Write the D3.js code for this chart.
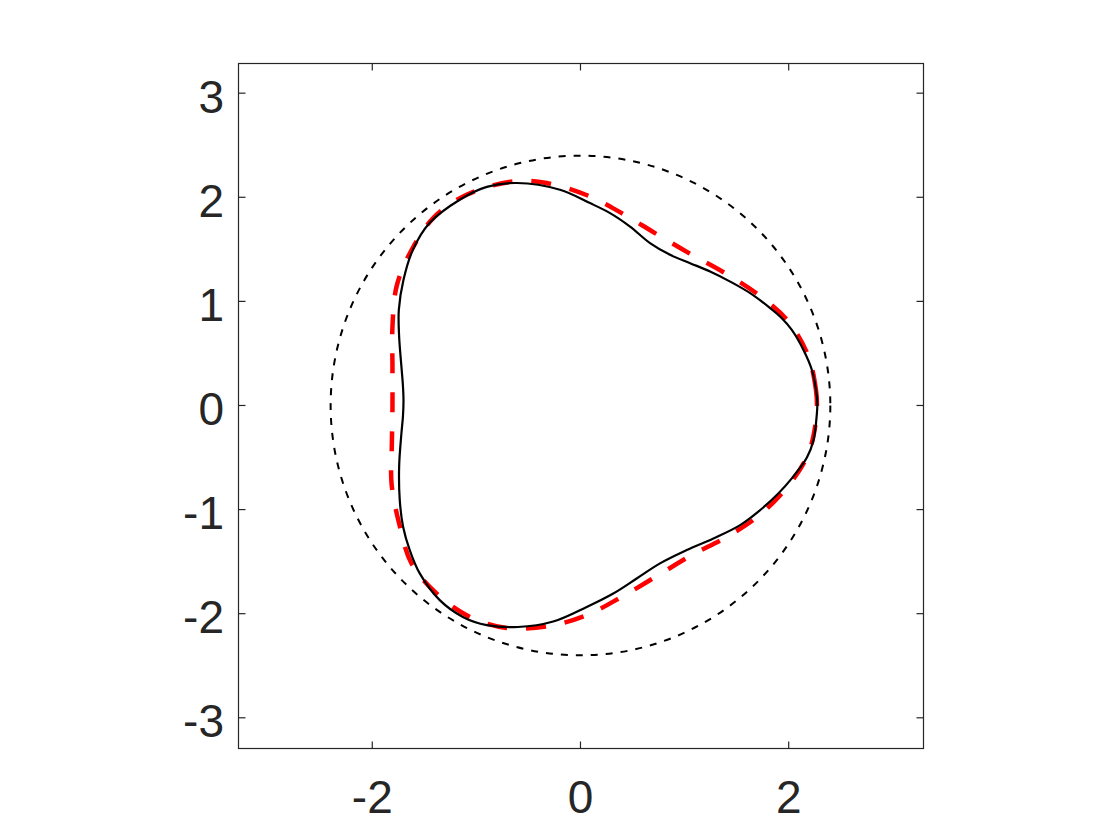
<!DOCTYPE html>
<html>
<head>
<meta charset="utf-8">
<script src="https://cdn.jsdelivr.net/npm/d3@7"></script>
<style>
  html, body { margin: 0; padding: 0; background: #ffffff; }
  svg { display: block; }
</style>
</head>
<body>
<svg id="chart" width="1120" height="840"></svg>
<script>
// ---- data ----
const xTicks = [-2, 0, 2];
const yTicks = [-3, -2, -1, 0, 1, 2, 3];
const xTickLabels = ["-2", "0", "2"];
const yTickLabels = ["-3", "-2", "-1", "0", "1", "2", "3"];

// reference circle radius (black dotted)
const circleRadius = [2.4];

// black solid closed curve (x, y), counter-clockwise from the right
const blackX = [2.275, 2.271, 2.223, 2.142, 2.03, 1.934, 1.822, 1.63, 1.438, 1.245, 1.053, 0.861, 0.668, 0.476, 0.284, 0.091, -0.197, -0.61, -0.90, -1.16, -1.45, -1.61, -1.70, -1.745, -1.742, -1.72, -1.706, -1.70, -1.705, -1.72, -1.742, -1.736, -1.704, -1.64, -1.544, -1.352, -1.13, -0.90, -0.60, -0.262, 0.06, 0.315, 0.54, 0.764, 1.021, 1.277, 1.534, 1.726, 1.90, 2.03, 2.175, 2.239, 2.271];
const blackY = [0.00, 0.085, 0.341, 0.534, 0.726, 0.838, 0.935, 1.079, 1.19, 1.287, 1.367, 1.447, 1.56, 1.719, 1.848, 1.944, 2.072, 2.137, 2.10, 1.976, 1.752, 1.495, 1.207, 0.918, 0.662, 0.373, 0.197, 0.05, -0.10, -0.267, -0.589, -0.909, -1.165, -1.389, -1.613, -1.87, -2.031, -2.11, -2.128, -2.075, -1.935, -1.806, -1.662, -1.517, -1.389, -1.277, -1.149, -1.005, -0.845, -0.70, -0.50, -0.332, -0.075];

// red dashed closed curve (x, y), counter-clockwise from the right
const redX = [2.272, 2.262, 2.19, 1.998, 1.71, 1.389, 1.053, 0.716, 0.396, 0.091, -0.325, -0.646, -1.094, -1.415, -1.639, -1.767, -1.806, -1.806, -1.806, -1.813, -1.815, -1.742, -1.623, -1.383, -1.063, -0.71, -0.31, 0.06, 0.396, 0.733, 1.069, 1.406, 1.72, 2.014, 2.19, 2.262];
const redY = [0.00, 0.15, 0.47, 0.806, 1.063, 1.271, 1.457, 1.656, 1.848, 2.008, 2.137, 2.152, 2.024, 1.80, 1.463, 1.142, 0.758, 0.373, -0.01, -0.428, -0.748, -1.133, -1.517, -1.806, -2.031, -2.137, -2.12, -2.014, -1.838, -1.639, -1.437, -1.262, -1.053, -0.748, -0.46, -0.15];

// ---- drawing ----
const svg = d3.select("#chart");
const pLeft = 238.5, pRight = 923.5, pTop = 63.5, pBottom = 748.5;
const axisColor = "#262626";

const x = d3.scaleLinear().domain([-3.285, 3.295]).range([pLeft, pRight]);
const y = d3.scaleLinear().domain([-3.295, 3.285]).range([pBottom, pTop]);

const plot = svg.append("g");

// dotted reference circle
plot.selectAll("circle.ref")
  .data(circleRadius)
  .enter().append("circle")
  .attr("class", "ref")
  .attr("cx", x(0))
  .attr("cy", y(0))
  .attr("r", d => x(d) - x(0))
  .attr("fill", "none")
  .attr("stroke", "#000")
  .attr("stroke-width", 2)
  .attr("stroke-dasharray", "7 8");

const line = d3.line()
  .x(d => x(d[0]))
  .y(d => y(d[1]))
  .curve(d3.curveCatmullRomClosed.alpha(0.5));

const redPts = redX.map((v, i) => [v, redY[i]]);
const blackPts = blackX.map((v, i) => [v, blackY[i]]);

plot.append("path")
  .datum(redPts)
  .attr("d", line)
  .attr("fill", "none")
  .attr("stroke", "#ff0000")
  .attr("stroke-width", 4.5)
  .attr("stroke-dasharray", "20 19");

plot.append("path")
  .datum(blackPts)
  .attr("d", line)
  .attr("fill", "none")
  .attr("stroke", "#000")
  .attr("stroke-width", 2.2);

// axes box
const ax = svg.append("g");
ax.append("rect")
  .attr("x", pLeft).attr("y", pTop)
  .attr("width", pRight - pLeft).attr("height", pBottom - pTop)
  .attr("fill", "none")
  .attr("stroke", axisColor)
  .attr("stroke-width", 1.2);

const tickLen = 7;
xTicks.forEach(t => {
  ax.append("line").attr("x1", x(t)).attr("x2", x(t)).attr("y1", pBottom).attr("y2", pBottom - tickLen)
    .attr("stroke", axisColor).attr("stroke-width", 1.2);
  ax.append("line").attr("x1", x(t)).attr("x2", x(t)).attr("y1", pTop).attr("y2", pTop + tickLen)
    .attr("stroke", axisColor).attr("stroke-width", 1.2);
});
yTicks.forEach(t => {
  ax.append("line").attr("x1", pLeft).attr("x2", pLeft + tickLen).attr("y1", y(t)).attr("y2", y(t))
    .attr("stroke", axisColor).attr("stroke-width", 1.2);
  ax.append("line").attr("x1", pRight).attr("x2", pRight - tickLen).attr("y1", y(t)).attr("y2", y(t))
    .attr("stroke", axisColor).attr("stroke-width", 1.2);
});

const font = "'Liberation Sans', Arial, Helvetica, sans-serif";
ax.selectAll("text.xl")
  .data(xTicks)
  .enter().append("text")
  .attr("class", "xl")
  .attr("x", d => x(d))
  .attr("y", 812.5)
  .attr("text-anchor", "middle")
  .attr("font-family", font)
  .attr("font-size", 46)
  .attr("fill", axisColor)
  .text((d, i) => xTickLabels[i]);

ax.selectAll("text.yl")
  .data(yTicks)
  .enter().append("text")
  .attr("class", "yl")
  .attr("x", 224)
  .attr("y", d => y(d) + 19.5)
  .attr("text-anchor", "end")
  .attr("font-family", font)
  .attr("font-size", 46)
  .attr("fill", axisColor)
  .text((d, i) => yTickLabels[i]);
</script>
</body>
</html>
